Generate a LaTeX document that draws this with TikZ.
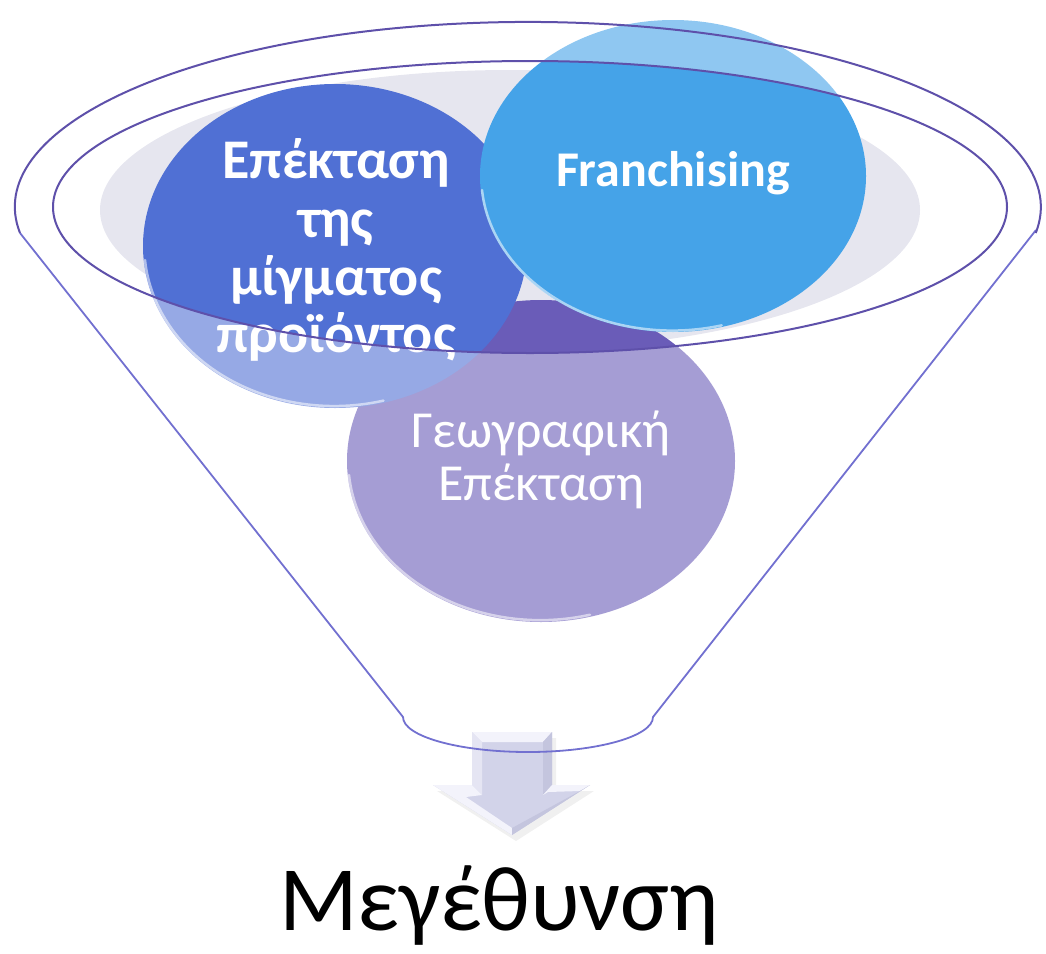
\documentclass[tikz,border=0pt]{standalone}
\usepackage{fontspec}
\setmainfont{Carlito}
\begin{document}
\begin{tikzpicture}[x=1pt,y=-1pt,line join=round]
\definecolor{rimdark}{HTML}{5E50AA}
\definecolor{rimlight}{HTML}{7270D0}
\definecolor{basin}{HTML}{E6E6EF}
\definecolor{mixcol}{HTML}{5070D4}
\definecolor{frcol}{HTML}{45A3E8}
\definecolor{geocol}{HTML}{6A5CB8}
\definecolor{arrface}{HTML}{D2D3E9}
\definecolor{arrlite}{HTML}{F3F3FB}
\definecolor{arrmid}{HTML}{E5E5F3}
\definecolor{arrdark}{HTML}{C4C5DE}
\tikzset{
  bubble/.style={font=\fontsize{56}{58}\selectfont\bfseries, text=white, inner sep=0pt, anchor=base},
  frtext/.style={font=\fontsize{50}{58}\selectfont\bfseries, text=white, inner sep=0pt, anchor=base},
  geotext/.style={font=\fontsize{52}{53}\selectfont, text=white, inner sep=0pt, anchor=base},
  gloss/.style={white, line width=2.5pt, opacity=0.55, line cap=round},
}
\useasboundingbox (0,0) rectangle (1046,953);

% basin inside the funnel mouth
\fill[basin] (510,210) ellipse [x radius=410pt, y radius=140pt];

% the three bubbles
\fill[geocol] (541,461) ellipse [x radius=194pt, y radius=161pt];
\draw[gloss] (349,475) arc [start angle=185, end angle=285, x radius=192pt, y radius=159pt];
\fill[mixcol] (335,246) ellipse [x radius=192pt, y radius=162pt];
\draw[gloss] (145,260) arc [start angle=185, end angle=285, x radius=190pt, y radius=160pt];
\fill[frcol] (673,176) ellipse [x radius=193pt, y radius=156pt];
\draw[gloss] (482,190) arc [start angle=185, end angle=285, x radius=191pt, y radius=154pt];

% bubble labels
\node[bubble] (mixA) at (336,178) {Επέκταση};
\node[bubble] (mixB) at (336,237) {της};
\node[bubble] (mixC) at (336,295) {μίγματος};
\node[bubble] (mixD) at (336,352) {προϊόντος};
\node[frtext] (fr) at (673,186) {Franchising};
\node[geotext] (geoA) at (541,447) {Γεωγραφική};
\node[geotext] (geoB) at (541,500) {Επέκταση};

% funnel body veils everything outside the mouth
\fill[white, opacity=0.4, even odd rule] (0,0) rectangle (1046,700)
  (530,207) ellipse [x radius=477pt, y radius=146pt];

% down arrow below the funnel
\fill[black!40, opacity=0.15] (476,738) -- (556,738) -- (556,791) -- (594,791) -- (516,841) -- (437,791) -- (476,791) -- cycle;
\fill[arrface] (472,732) -- (552,732) -- (552,785) -- (590,785) -- (512,835) -- (433,785) -- (472,785) -- cycle;
\fill[arrlite] (472,732) -- (552,732) -- (543,742) -- (482,742) -- cycle;
\fill[arrmid] (472,732) -- (482,742) -- (482,795) -- (472,785) -- cycle;
\fill[arrdark] (552,732) -- (543,742) -- (543,795) -- (552,785) -- cycle;
\fill[arrlite] (433,785) -- (472,785) -- (482,795) -- (466,797) -- (512,828) -- (512,835) -- cycle;
\fill[arrlite] (552,785) -- (590,785) -- (580,791) -- (548,792) -- (543,795) -- cycle;
\fill[arrdark] (590,785) -- (512,835) -- (512,828) -- (580,791) -- cycle;

% funnel outline
\draw[rimlight, line width=1.8pt] (20,233) -- (403,717)
  arc [start angle=180, end angle=360, x radius=125pt, y radius=35pt] -- (1036,230);
\draw[rimdark, line width=2pt] (20,233)
  arc [start angle=188.1, end angle=-8.1, x radius=513pt, y radius=185pt];
\draw[rimdark, line width=2pt] (530,207) ellipse [x radius=477pt, y radius=146pt];

% outcome label
\node[font=\fontsize{92}{110}\selectfont, inner sep=0pt, anchor=base] (grow) at (499,930) {Μεγέθυνση};
\end{tikzpicture}
\end{document}
